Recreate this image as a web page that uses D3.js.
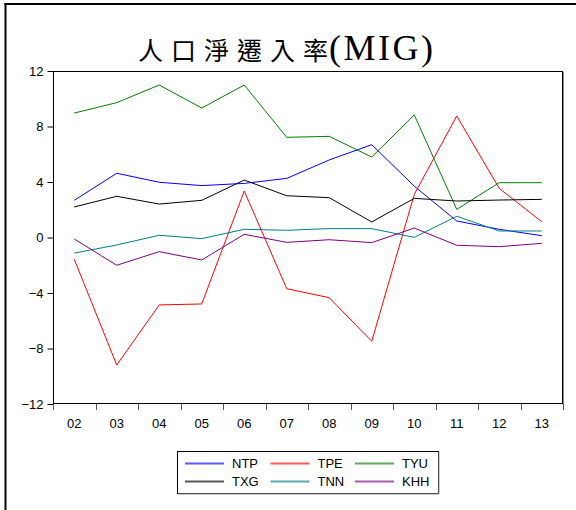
<!DOCTYPE html>
<html><head><meta charset="utf-8">
<script src="https://cdn.jsdelivr.net/npm/d3@7"></script>
<style>body{margin:0;background:#fff}svg{display:block}</style>
</head><body>
<script>
const years = ["02","03","04","05","06","07","08","09","10","11","12","13"];
const NTP = [2.68,4.63,3.98,3.74,3.90,4.26,5.59,6.69,3.70,1.19,0.59,0.13];
const TPE = [-1.57,-9.19,-4.86,-4.79,3.35,-3.69,-4.34,-7.48,3.10,8.76,3.54,1.14];
const TYU = [8.97,9.72,10.99,9.33,10.99,7.22,7.29,5.80,8.83,2.03,3.95,3.95];
const TXG = [2.20,2.97,2.41,2.68,4.14,3.01,2.87,1.12,2.82,2.63,2.70,2.75];
const TNN = [-1.12,-0.54,0.16,-0.08,0.59,0.52,0.64,0.64,0.01,1.53,0.47,0.47];
const KHH = [-0.11,-2.00,-1.02,-1.62,0.23,-0.35,-0.16,-0.37,0.68,-0.56,-0.66,-0.42];
const yTicks = [-12,-8,-4,0,4,8,12];
const seriesNames = ["NTP","TPE","TYU","TXG","TNN","KHH"];
const seriesData = [NTP,TPE,TYU,TXG,TNN,KHH];
const seriesColors = ["#0000ff","#ff0000","#008000","#000000","#008080","#800080"];

const W=576,H=510;
const svg=d3.select("body").append("svg").attr("width",W).attr("height",H);
// outer frame (left & top)
svg.append("line").attr("x1",5.5).attr("x2",5.5).attr("y1",3).attr("y2",H).attr("stroke","#000").attr("stroke-width",2);
svg.append("line").attr("x1",4.5).attr("x2",W).attr("y1",4).attr("y2",4).attr("stroke","#000").attr("stroke-width",2);

// title
const t=svg.append("text").attr("x",138).attr("y",60).attr("fill","#000");
t.append("tspan").attr("font-family","'Noto Sans CJK TC'").attr("font-size",25).attr("letter-spacing",8).text("人口淨遷入率");
t.append("tspan").attr("font-family","'Liberation Serif'").attr("font-size",36).attr("letter-spacing",2.5).attr("dx",-7).text("(MIG)");

const L=53,R=563,T=71,B=404;
const x=d3.scaleBand().domain(years).range([L,R]);
const y=d3.scaleLinear().domain([-12,12]).range([B,T]);

// frame
svg.append("rect").attr("x",L+0.5).attr("y",T+0.5).attr("width",R-L-1).attr("height",B-T-1).attr("fill","none").attr("stroke","#000").attr("stroke-width",1);
svg.append("line").attr("x1",R+0.5).attr("x2",R+0.5).attr("y1",T+1).attr("y2",B).attr("stroke","#888");

// y axis
const ya=svg.append("g").attr("transform",`translate(${L+0.5},0)`)
  .call(d3.axisLeft(y).tickValues(yTicks).tickSize(6).tickPadding(4).tickFormat(d3.format("d")));
ya.select(".domain").remove();
ya.selectAll("text").attr("font-family","'Liberation Sans',Arial,sans-serif").attr("font-size",13).attr("fill","#000");
ya.selectAll("line").attr("stroke","#000");

// x axis: ticks at band boundaries
const bounds=years.map(d=>x(d)).concat([R]);
svg.append("g").selectAll("line").data(bounds).join("line")
  .attr("x1",d=>Math.round(d)+0.5).attr("x2",d=>Math.round(d)+0.5).attr("y1",B).attr("y2",B+6).attr("stroke","#555");
svg.append("g").selectAll("text").data(years).join("text")
  .attr("x",d=>x(d)+x.bandwidth()/2).attr("y",428).attr("text-anchor","middle")
  .attr("font-family","'Liberation Sans',Arial,sans-serif").attr("font-size",13).attr("fill","#000").text(d=>d);

// lines
const line=d3.line().x((d,i)=>x(years[i])+x.bandwidth()/2).y(d=>y(d));
seriesData.forEach((s,k)=>{
  svg.append("path").datum(s).attr("d",line).attr("fill","none").attr("stroke",seriesColors[k]).attr("stroke-width",1);
});

// legend
const lg=svg.append("g");
lg.append("rect").attr("x",177.5).attr("y",451.5).attr("width",261).attr("height",42).attr("fill","#fff").attr("stroke","#000");
lg.append("line").attr("x1",439).attr("x2",439).attr("y1",452).attr("y2",494).attr("stroke","#999");
lg.append("line").attr("x1",178).attr("x2",439).attr("y1",494).attr("y2",494).attr("stroke","#999");
const colX=[185,270.5,355], rowY=[463.5,481.5];
seriesNames.forEach((n,k)=>{
  const cx=colX[k%3], cy=rowY[Math.floor(k/3)];
  lg.append("line").attr("x1",cx).attr("x2",cx+39).attr("y1",cy).attr("y2",cy).attr("stroke",seriesColors[k]).attr("stroke-width",2).attr("stroke-opacity",0.65);
  lg.append("text").attr("x",cx+47).attr("y",cy+4.5).attr("font-family","'Liberation Sans',Arial,sans-serif").attr("font-size",13).attr("fill","#000").text(n);
});
</script>
</body></html>
